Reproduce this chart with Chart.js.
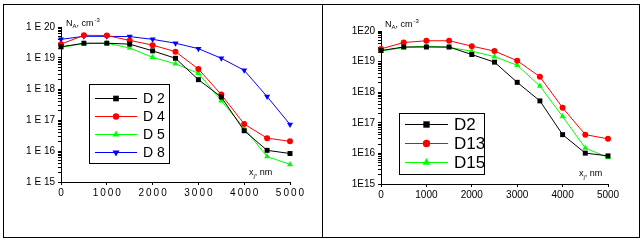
<!DOCTYPE html>
<html>
<head>
<meta charset="utf-8">
<script src="https://cdn.jsdelivr.net/npm/chart.js@4"></script>
<style>
  html, body { margin: 0; padding: 0; background: #fff; }
  #frame { position: absolute; left: 3px; top: 4px; width: 635px; height: 232px; border: 1px solid #000; }
  #divider { position: absolute; left: 322px; top: 4px; width: 1px; height: 234px; background: #000; }
  canvas { position: absolute; }
</style>
</head>
<body>
<div id="frame"></div>
<div id="divider"></div>
<canvas id="left" width="317" height="231" style="left:4px;top:5px;width:317px;height:231px"></canvas>
<canvas id="right" width="315" height="231" style="left:323px;top:5px;width:315px;height:231px"></canvas>
<script>
// ── Data ──
const xValues = [0, 500, 1000, 1500, 2000, 2500, 3000, 3500, 4000, 4500, 5000];

const leftD2 = [2.3e19, 3.0e19, 3.0e19, 2.8e19, 1.7e19, 9.8e18, 2.0e18, 5.5e17, 4.5e16, 1.05e16, 8.3e15];
const leftD4 = [2.8e19, 5.4e19, 5.3e19, 3.7e19, 2.6e19, 1.6e19, 4.4e18, 6.6e17, 7.4e16, 2.6e16, 2.05e16];
const leftD5 = [2.2e19, 2.9e19, 3.0e19, 2.1e19, 1.05e19, 6.5e18, 3.2e18, 4.2e17, 5.4e16, 6.6e15, 3.7e15];
const leftD8 = [4.0e19, 5.0e19, 5.0e19, 4.9e19, 4.0e19, 3.0e19, 2.0e19, 9.8e18, 4.0e18, 5.7e17, 7.2e16];

const rightD2 = [2.3e19, 3.0e19, 3.0e19, 3.0e19, 1.7e19, 9.6e18, 2.1e18, 5.2e17, 4.1e16, 1.02e16, 8.3e15];
const rightD13 = [2.6e19, 4.2e19, 4.8e19, 4.8e19, 3.2e19, 2.2e19, 1.07e19, 3.2e18, 3.1e17, 4.1e16, 3.0e16];
const rightD15 = [2.2e19, 2.9e19, 3.2e19, 2.9e19, 2.2e19, 1.45e19, 7.6e18, 1.6e18, 1.6e17, 1.5e16, 7.3e15];

const leftLabels = ['D 2', 'D 4', 'D 5', 'D 8'];
const rightLabels = ['D2', 'D13', 'D15'];

const xMajorTicks = [0, 1000, 2000, 3000, 4000, 5000];
const yMin = 1e15;
const yMax = 1e20;

const FONT = 'Liberation Sans, Arial, sans-serif';

// ── Helpers ──
function series(label, data, color, style, rotation) {
    return {
        label: label,
        data: xValues.map((x, i) => ({ x: x, y: data[i] })),
        borderColor: color,
        backgroundColor: color,
        borderWidth: 1,
        pointStyle: style,
        pointRotation: rotation || 0,
        pointRadius: style === 'circle' ? 3 : 3.5,
        pointBorderWidth: 0,
        tension: 0,
        clip: false,
    };
}

function logTicks() {
    const ticks = [];
    for (let e = 15; e < 20; e++) {
        for (let m = 1; m < 10; m++) ticks.push({ value: m * Math.pow(10, e) });
    }
    ticks.push({ value: yMax });
    return ticks;
}

// draws the boxed legend inside the plot area
const boxLegend = {
    id: 'boxLegend',
    afterDraw(chart, args, opts) {
        const ctx = chart.ctx;
        ctx.save();
        ctx.strokeStyle = '#000';
        ctx.lineWidth = 1;
        ctx.strokeRect(opts.x + 0.5, opts.y + 0.5, opts.w, opts.h);
        ctx.font = opts.fontSize + 'px ' + FONT;
        ctx.textBaseline = 'middle';
        chart.data.datasets.forEach((ds, i) => {
            const y = Math.round(opts.rowY + i * opts.rowGap) + 0.5;
            ctx.strokeStyle = ds.borderColor;
            ctx.beginPath();
            ctx.moveTo(opts.lineX0, y);
            ctx.lineTo(opts.lineX1, y);
            ctx.stroke();
            ctx.fillStyle = ds.backgroundColor;
            const r = ds.pointStyle === 'circle' ? opts.markerRadius - 0.8 : opts.markerRadius;
            Chart.helpers.drawPoint(ctx, {
                pointStyle: ds.pointStyle, rotation: ds.pointRotation,
                radius: r, borderWidth: 0,
            }, (opts.lineX0 + opts.lineX1) / 2, y);
            ctx.fillStyle = '#000';
            ctx.fillText(ds.label, opts.textX, y + 1);
        });
        ctx.restore();
    }
};

// axis titles: N_A, cm^-3 and x_j, nm
const axisTitles = {
    id: 'axisTitles',
    afterDraw(chart, args, opts) {
        const ctx = chart.ctx;
        ctx.save();
        ctx.fillStyle = '#000';
        ctx.textBaseline = 'alphabetic';
        let x = opts.nx;
        const ny = opts.ny;
        ctx.font = '9px ' + FONT;
        ctx.fillText('N', x, ny); x += ctx.measureText('N').width;
        ctx.font = '6px ' + FONT;
        ctx.fillText('A', x, ny + 2); x += ctx.measureText('A').width;
        ctx.font = '9px ' + FONT;
        ctx.fillText(', cm', x, ny); x += ctx.measureText(', cm').width + 1;
        ctx.font = '6px ' + FONT;
        ctx.fillText('-3', x, ny - 4);

        x = opts.xx;
        const xy = opts.xy;
        ctx.font = '9px ' + FONT;
        ctx.fillText('x', x, xy); x += ctx.measureText('x').width;
        ctx.font = '6px ' + FONT;
        ctx.fillText('j', x, xy + 3); x += ctx.measureText('j').width;
        ctx.font = '9px ' + FONT;
        ctx.fillText(', nm', x, xy);
        ctx.restore();
    }
};

function buildChart(id, datasets, cfg) {
    const ctx = document.getElementById(id).getContext('2d');
    return new Chart(ctx, {
        type: 'line',
        data: { datasets },
        options: {
            responsive: false,
            animation: false,
            layout: { padding: { top: cfg.top, right: cfg.right, left: 0, bottom: 0 } },
            plugins: {
                legend: { display: false },
                tooltip: { enabled: false },
                boxLegend: cfg.legend,
                axisTitles: cfg.titles,
            },
            scales: {
                x: {
                    type: 'linear', min: 0, max: 5000,
                    afterBuildTicks: s => { s.ticks = xMajorTicks.map(v => ({ value: v })); },
                    afterFit: s => { s.height = cfg.xHeight; },
                    border: { display: true, color: '#000', width: 1 },
                    grid: { drawOnChartArea: false, tickLength: 3, color: '#000' },
                    ticks: {
                        color: '#000', padding: 2, maxRotation: 0, autoSkip: false,
                        font: { family: FONT, size: 10 },
                        callback: cfg.xFormat,
                    },
                },
                y: {
                    type: 'logarithmic', min: yMin, max: yMax,
                    afterBuildTicks: s => { s.ticks = logTicks(); },
                    afterFit: s => { s.width = cfg.yWidth; },
                    border: { display: true, color: '#000', width: 1 },
                    grid: {
                        drawOnChartArea: false, color: '#000',
                        tickLength: 3,
                    },
                    ticks: {
                        color: '#000', padding: 3, autoSkip: false,
                        font: { family: FONT, size: 10 },
                        callback: v => {
                            const e = Math.log10(v);
                            if (Math.abs(e - Math.round(e)) > 1e-6) return '';
                            return cfg.yFormat(Math.round(e));
                        },
                    },
                },
            },
        },
        plugins: [boxLegend, axisTitles],
    });
}

// ── Left panel ──
buildChart('left', [
    series(leftLabels[0], leftD2, '#000000', 'rect'),
    series(leftLabels[1], leftD4, '#ff0000', 'circle'),
    series(leftLabels[2], leftD5, '#00ff00', 'triangle'),
    series(leftLabels[3], leftD8, '#0000ff', 'triangle', 180),
], {
    top: 22, right: 31, xHeight: 54, yWidth: 57,
    xFormat: v => String(v).split('').join('\u2009'),
    yFormat: e => '1 E ' + e,
    legend: { x: 85, y: 79, w: 80, h: 79, rowY: 92.5, rowGap: 18.1,
              lineX0: 91, lineX1: 133, textX: 139, fontSize: 14, markerRadius: 4 },
    titles: { nx: 62, ny: 21, xx: 245, xy: 170 },
});

// ── Right panel ──
buildChart('right', [
    series(rightLabels[0], rightD2, '#000000', 'rect'),
    series(rightLabels[1], rightD13, '#ff0000', 'circle'),
    series(rightLabels[2], rightD15, '#00ff00', 'triangle'),
], {
    top: 26, right: 30, xHeight: 52, yWidth: 58,
    xFormat: v => String(v),
    yFormat: e => '1E' + e,
    legend: { x: 76, y: 108, w: 85, h: 61, rowY: 119, rowGap: 18.8,
              lineX0: 82, lineX1: 125, textX: 131, fontSize: 17, markerRadius: 4.5 },
    titles: { nx: 62, ny: 22, xx: 256, xy: 171 },
});
</script>
</body>
</html>
